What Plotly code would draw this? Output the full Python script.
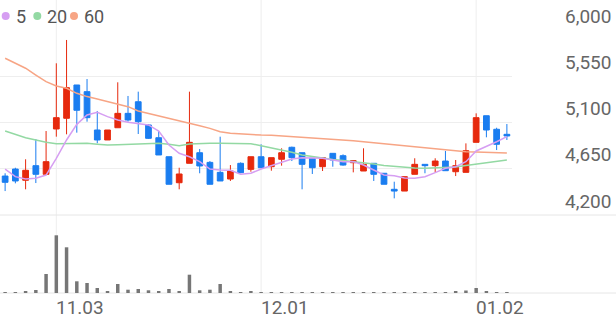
import plotly.graph_objects as go

# ---------------- data ----------------
idx = list(range(50))
opens = [4579, 4647, 4538, 4680, 4596, 5037, 5141, 5465, 5400, 5027,
         4930, 5049, 5189, 5302, 5076, 4952, 4767, 4514, 4703, 4806,
         4712, 4615, 4550, 4703, 4644, 4767, 4670, 4742, 4859, 4806,
         4752, 4670, 4800, 4777, 4709, 4628, 4703, 4606, 4450, 4433,
         4596, 4693, 4680, 4725, 4621, 4615, 4907, 5166, 5034, 4985]
highs = [4606, 4660, 4742, 4939, 5017, 5676, 5903, 5465, 5523, 5212,
         5027, 5491, 5358, 5400, 5085, 5017, 4767, 4660, 5400, 4842,
         4725, 4962, 4686, 4712, 4767, 4888, 4758, 4849, 4865, 4806,
         4752, 4758, 4800, 4790, 4729, 4849, 4703, 4606, 4524, 4573,
         4752, 4693, 4752, 4823, 4735, 4897, 5189, 5166, 5049, 5085]
lows = [4433, 4508, 4450, 4511, 4596, 4962, 4985, 5001, 5108, 4898,
        4930, 5049, 5108, 4988, 4940, 4784, 4499, 4450, 4703, 4606,
        4499, 4531, 4531, 4606, 4621, 4660, 4631, 4680, 4725, 4450,
        4599, 4628, 4670, 4680, 4615, 4628, 4531, 4499, 4362, 4433,
        4596, 4606, 4612, 4631, 4579, 4615, 4907, 4956, 4832, 4930]
closes = [4518, 4531, 4635, 4596, 4719, 5147, 5439, 5219, 5147, 4930,
          5027, 5189, 5124, 5108, 4946, 4784, 4499, 4599, 4907, 4677,
          4499, 4531, 4628, 4612, 4767, 4660, 4758, 4806, 4758, 4693,
          4660, 4758, 4735, 4686, 4729, 4693, 4596, 4499, 4433, 4573,
          4693, 4680, 4725, 4631, 4680, 4826, 5147, 5027, 4888, 4969]
volumes = [20000, 20000, 26000, 60000, 380000, 1154000, 914000, 234000, 200000, 100000,
           34000, 180000, 66000, 80000, 54000, 34000, 80000, 34000, 366000, 54000,
           66000, 180000, 34000, 20000, 34000, 20000, 20000, 20000, 20000, 20000,
           20000, 20000, 20000, 20000, 20000, 20000, 20000, 20000, 20000, 20000,
           20000, 20000, 20000, 20000, 24000, 50000, 100000, 34000, 20000, 10000]
ma5 = [4647, 4573, 4550, 4557, 4589, 4752, 4930, 5082, 5173, 5199,
       5157, 5124, 5102, 5092, 5076, 5017, 4881, 4800, 4767, 4719,
       4647, 4638, 4635, 4596, 4606, 4647, 4680, 4719, 4745, 4758,
       4758, 4752, 4735, 4719, 4719, 4686, 4638, 4589, 4582, 4560,
       4557, 4573, 4612, 4654, 4670, 4719, 4823, 4865, 4913, 4962]
ma20 = [5017, 4985, 4952, 4930, 4907, 4894, 4897, 4900, 4897, 4888,
        4881, 4884, 4888, 4894, 4894, 4897, 4888, 4874, 4891, 4897,
        4897, 4897, 4897, 4897, 4894, 4874, 4855, 4832, 4810, 4784,
        4767, 4752, 4740, 4730, 4720, 4711, 4696, 4682, 4674, 4662,
        4657, 4654, 4657, 4660, 4667, 4682, 4696, 4709, 4722, 4735]
ma60 = [5725, 5676, 5628, 5562, 5497, 5455, 5433, 5384, 5352, 5329,
        5303, 5277, 5254, 5212, 5189, 5166, 5141, 5118, 5092, 5069,
        5043, 5010, 4995, 4988, 4981, 4978, 4975, 4969, 4962, 4955,
        4952, 4946, 4939, 4932, 4922, 4913, 4903, 4891, 4883, 4874,
        4862, 4849, 4839, 4830, 4823, 4816, 4813, 4810, 4806, 4803]
date_tick_idx = [5, 25, 46]
date_tick_text = ["11.03", "12.01", "01.02"]
price_ticks = [4200, 4650, 5100, 5550, 6000]
legend_names = ["5", "20", "60"]

# ---------------- styling / layout ----------------
W, H = 616, 321
def px(x):
    return x / W
def py(y):
    return 1 - y / H

RED = "#e6290d"
BLUE = "#1a7df0"
MA_COLORS = ["#d69ef2", "#93d9a3", "#f7a585"]
GRID = "#eeeeee"
TXT = "#666666"
FONT = "Roboto"

fig = go.Figure()

for vals, col in zip([ma60, ma20, ma5], MA_COLORS[::-1]):
    fig.add_trace(go.Scatter(x=idx, y=vals, mode="lines",
                             line=dict(color=col, width=1.5),
                             hoverinfo="skip", showlegend=False,
                             xaxis="x", yaxis="y"))

fig.add_trace(go.Candlestick(
    x=idx, open=opens, high=highs, low=lows, close=closes,
    increasing=dict(line=dict(color=RED, width=1), fillcolor=RED),
    decreasing=dict(line=dict(color=BLUE, width=1), fillcolor=BLUE),
    showlegend=False, xaxis="x", yaxis="y"))

fig.add_trace(go.Bar(x=idx, y=volumes, marker=dict(color="#767676", line=dict(width=0)),
                     width=0.34, showlegend=False, xaxis="x2", yaxis="y2"))

xdom = [0, px(512)]
fig.update_layout(
    width=W, height=H,
    margin=dict(l=0, r=0, t=0, b=0),
    paper_bgcolor="white", plot_bgcolor="white",
    font=dict(family=FONT, color=TXT),
    showlegend=False,
    boxgap=0.2,
    xaxis=dict(domain=xdom, range=[-0.5, 49.5], showgrid=False, zeroline=False,
               showticklabels=False, ticks="", rangeslider=dict(visible=False),
               fixedrange=True, anchor="y"),
    xaxis2=dict(domain=xdom, range=[-0.5, 49.5], matches="x", showgrid=False,
                zeroline=False, showticklabels=False, ticks="", anchor="y2"),
    yaxis=dict(domain=[py(215), py(30)], range=[4200, 6000], tickvals=price_ticks,
               showgrid=True, gridcolor=GRID, gridwidth=1, zeroline=False,
               showticklabels=False, ticks="", anchor="x"),
    yaxis2=dict(domain=[py(293), py(215)], range=[0, 1560000], showgrid=False,
                zeroline=False, showticklabels=False, ticks="", anchor="x2"),
)

shapes = []
for i in date_tick_idx:
    shapes.append(dict(type="line", xref="x", yref="paper", x0=i, x1=i,
                       y0=py(293), y1=1, line=dict(color=GRID, width=1), layer="below"))
shapes.append(dict(type="line", xref="paper", yref="paper", x0=0, x1=1,
                   y0=py(215), y1=py(215), line=dict(color="#e6e6e6", width=1), layer="below"))
shapes.append(dict(type="line", xref="paper", yref="paper", x0=0, x1=1,
                   y0=py(293), y1=py(293), line=dict(color="#e6e6e6", width=1), layer="below"))

annotations = []
for v in price_ticks:
    annotations.append(dict(xref="paper", yref="y", x=px(613), y=v, yshift=14,
                            xanchor="right", yanchor="middle", showarrow=False,
                            text=f"{v:,}", font=dict(size=19, color=TXT, family=FONT)))
for i, t in zip(date_tick_idx, date_tick_text):
    annotations.append(dict(xref="x", yref="paper", x=i, y=py(307), xanchor="left",
                            xshift=-2, yanchor="middle", showarrow=False, text=t,
                            font=dict(size=19, color=TXT, family=FONT)))

dot_x = [5.7, 37.3, 74]
text_x = [14, 45, 82]
for name, col, dx, tx in zip(legend_names, MA_COLORS, dot_x, text_x):
    shapes.append(dict(type="circle", xref="paper", yref="paper",
                       x0=px(dx - 4), x1=px(dx + 4), y0=py(20), y1=py(12),
                       fillcolor=col, line=dict(width=0)))
    annotations.append(dict(xref="paper", yref="paper", x=px(tx), y=py(16),
                            xanchor="left", yanchor="middle", showarrow=False,
                            text=name, font=dict(size=18, color="#555555", family=FONT)))

fig.update_layout(shapes=shapes, annotations=annotations)
fig.write_html("out.html")
